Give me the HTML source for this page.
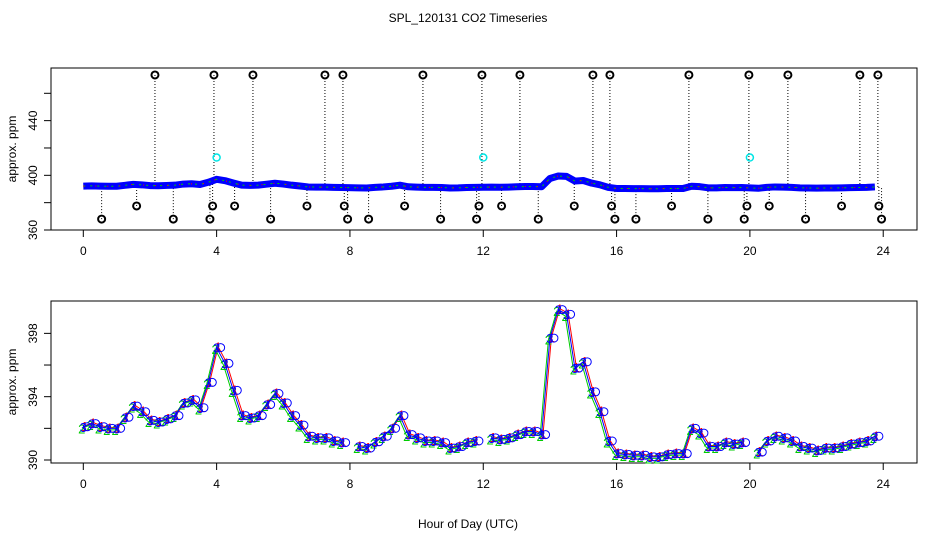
<!DOCTYPE html>
<html><head><meta charset="utf-8"><style>
html,body{margin:0;padding:0;background:#fff;}
svg{display:block;font-family:"Liberation Sans",sans-serif;}
</style></head><body>
<svg id="chart" width="936" height="540">
<text x="468" y="22" text-anchor="middle" font-size="12">SPL_120131  CO2 Timeseries</text>
<text x="468" y="528" text-anchor="middle" font-size="12">Hour of Day (UTC)</text>
<g id="top"></g>
<g id="bot"></g>
</svg>
<script>
// series values every 0.25 h (null = gap)
const hours = [];
for (let i = 0; i < 96; i++) hours.push(i * 0.25);
const co2 = [392.1,392.3,392.1,392.0,392.0,392.7,393.4,393.05,392.5,392.4,392.6,392.8,393.6,393.8,393.3,394.9,
 397.1,396.1,394.4,392.8,392.65,392.8,393.5,394.2,393.6,392.8,392.2,391.5,391.4,391.4,391.2,391.1,
 null,390.85,390.75,391.15,391.5,392.0,392.8,391.6,391.4,391.2,391.2,391.1,390.75,390.85,391.1,391.2,
 null,391.4,391.3,391.4,391.6,391.8,391.8,391.6,397.7,399.5,399.2,395.8,396.2,394.3,393.05,391.2,
 390.4,390.35,390.3,390.3,390.2,390.2,390.35,390.4,390.4,392.0,391.7,390.85,390.85,391.1,391.0,391.1,
 null,390.5,391.2,391.5,391.4,391.2,390.85,390.75,390.6,390.75,390.75,390.85,391.0,391.1,391.2,391.5];
const highHours = [2.15,3.92,5.09,7.25,7.79,10.19,11.96,13.1,15.29,15.8,18.17,19.97,21.14,23.3,23.84];
const highValue = 473.4;
const midHours = [1.60,3.88,4.54,6.71,7.83,9.64,11.87,12.55,14.73,15.85,17.65,19.91,20.58,22.75,23.87];
const midValue = 377.6;
const lowHours = [0.55,2.70,3.80,5.62,7.93,8.56,10.72,11.80,13.65,15.95,16.58,18.74,19.83,21.67,23.95];
const lowValue = 368;
const calHours = [4.0,12.0,20.0];
const calValue = 413;
const xTicks = [0,4,8,12,16,20,24];
const topYTicks = [360,380,400,420,440,460];
const topYLabels = [360,400,440];
const botYTicks = [390,392,394,396,398];
const botYLabels = [390,394,398];

const NS = "http://www.w3.org/2000/svg";
function mk(tag, attrs, parent){ const e=document.createElementNS(NS,tag); for(const k in attrs) e.setAttribute(k,attrs[k]); parent.appendChild(e); return e; }
const X = h => 83.3 + h*33.33;
const L = 51, R = 917;
const Yt = v => 230 - (v-360)*1.367;
const Yb = v => 460 - (v-390)*15.83;

function axes(g, top, bottom, ticks, labels, Y, name){
  const box = mk('rect',{x:L,y:top,width:R-L,height:bottom-top,fill:'none',stroke:'#000','stroke-width':1},g);
  
  
  xTicks.forEach(t=>{
    const tk=mk('line',{x1:X(t),x2:X(t),y1:bottom,y2:bottom+7,stroke:'#000'},g);
    
    
    const tx=mk('text',{x:X(t),y:bottom+25,'text-anchor':'middle','font-size':12},g);
    tx.textContent=t;
    
    
  });
  ticks.forEach(t=>{
    const tk=mk('line',{x1:L-7,x2:L,y1:Y(t),y2:Y(t),stroke:'#000'},g);
    
    
  });
  labels.forEach(t=>{
    const tx=mk('text',{x:0,y:0,'text-anchor':'middle','font-size':12,transform:`translate(${L-14},${Y(t)}) rotate(-90)`},g);
    tx.textContent=t;
    
    
  });
  const yl=mk('text',{x:0,y:0,'text-anchor':'middle','font-size':12,transform:`translate(16,${(top+bottom)/2}) rotate(-90)`},g);
  yl.textContent='approx. ppm';
  
  
}

function segments(){
  const segs=[]; let cur=[];
  co2.forEach((v,i)=>{ if(v===null){ if(cur.length) segs.push(cur); cur=[]; } else cur.push([hours[i],v]); });
  if(cur.length) segs.push(cur);
  return segs;
}
function allPts(){ const a=[]; co2.forEach((v,i)=>{ if(v!==null) a.push([hours[i],v]); }); return a; }

// TOP PANEL
const gt=document.getElementById('top');
axes(gt,68,230,topYTicks,topYLabels,Yt,'top');
function lineVal(h){ let best=392,bd=1e9; co2.forEach((v,i)=>{ if(v!==null && Math.abs(hours[i]-h)<bd){bd=Math.abs(hours[i]-h);best=v;} }); return best; }
[[highHours,highValue],[midHours,midValue],[lowHours,lowValue]].forEach(([hs,val])=>{
  hs.forEach(h=>{
    const ln=mk('line',{x1:X(h),x2:X(h),y1:Yt(val),y2:Yt(lineVal(h)),stroke:'#000','stroke-dasharray':'1,2','stroke-width':1},gt);
    
    
  });
});
{
  const pts=allPts().map(([h,v])=>X(h)+','+Yt(v)).join(' ');
  const p=mk('polyline',{points:pts,fill:'none',stroke:'#0000ff','stroke-width':7,'stroke-linejoin':'round'},gt);
  
  
  const p2=mk('polyline',{points:pts,fill:'none',stroke:'#00cc00','stroke-width':1,'stroke-dasharray':'2,5'},gt);
  
  
  const p3=mk('polyline',{points:pts,fill:'none',stroke:'#ff0000','stroke-width':1,'stroke-dasharray':'1,11'},gt);
  
  
}
[[highHours,highValue],[midHours,midValue],[lowHours,lowValue]].forEach(([hs,val])=>{
  hs.forEach(h=>{
    const c=mk('circle',{cx:X(h),cy:Yt(val),r:3.5,fill:'none',stroke:'#000','stroke-width':2},gt);
    
    
  });
});
calHours.forEach(h=>{
  const c=mk('circle',{cx:X(h),cy:Yt(calValue),r:3.5,fill:'none',stroke:'#00e5e5','stroke-width':1.5},gt);
  
  
});

// BOTTOM PANEL
const gb=document.getElementById('bot');
axes(gb,301,463,botYTicks,botYLabels,Yb,'bottom');
const series=[['#ff0000','1',1.5,-1],['#00cc00','2',-1.5,1.5],['#0000ff','3',0,0]];
series.forEach(([col,lab,dx,dy])=>{
  segments().forEach(s=>{
    const p=mk('polyline',{points:s.map(([h,v])=>(X(h)+dx)+','+(Yb(v)+dy)).join(' '),fill:'none',stroke:col,'stroke-width':1},gb);
    
    
  });
  co2.forEach((v,i)=>{
    if(v===null) return;
    const t=mk('text',{x:X(hours[i])+dx,y:Yb(v)+dy+5,'text-anchor':'middle','font-size':13,fill:col},gb);
    t.textContent=lab;
    
    
    if(lab==='3'){
      const c=mk('circle',{cx:X(hours[i])+4,cy:Yb(v),r:4,fill:'none',stroke:col,'stroke-width':1},gb);
      
      
    }
  });
});
</script>
</body></html>
